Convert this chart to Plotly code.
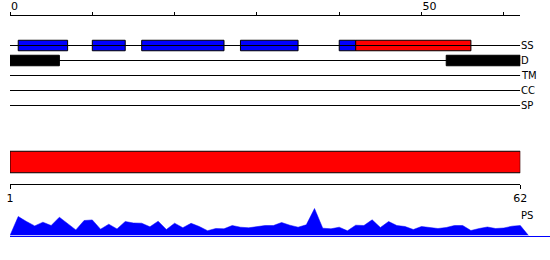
import plotly.graph_objects as go

# ---------------- data ----------------
n_res = 62
rows = ["SS", "D", "TM", "CC", "SP"]
helix_start = [1, 10, 16, 28, 40]
helix_end = [7, 14, 26, 35, 42]
strand_start = [42]
strand_end = [56]
disorder_start = [0, 53]
disorder_end = [6, 62]
region_start = [1]
region_end = [62]
top_tickvals = [0, 10, 20, 30, 40, 50, 60]
top_ticktext = ["0", "", "", "", "", "50", ""]
bottom_tickvals = [1, 62]
bottom_ticktext = ["1", "62"]
ps_residues = list(range(1, 63))
ps_values = [19, 14, 9.6, 13.3, 10, 18.3, 12, 5.6, 15, 15.6,
             6.3, 11.3, 6.6, 14, 12.5, 12.3, 8.7, 14.3, 6, 12.3,
             7.8, 12.2, 9, 4.8, 7, 6.7, 10, 8.3, 7.7, 9,
             10, 10, 13, 10.3, 8.3, 10.7, 27, 7.3, 6.7, 8.3,
             4.7, 10.3, 10, 15.7, 8, 14, 10, 9, 6, 9,
             8, 7, 8, 10, 10, 5, 7, 8.5, 7, 7.5,
             9.3, 10]

# ---------------- layout helpers ----------------
W, H = 550, 260
FONT = "DejaVu Sans"
BLUE = "#0000FF"
RED = "#FF0000"


def py(y):
    return 1 - y / H


x_left = 10.0
x_right = 520.3
scale = (x_right - x_left) / n_res
ps_range_end = (W - x_left) / scale

row_idx = {r: i for i, r in enumerate(rows)}

fig = go.Figure()

# track lines
for r in rows:
    fig.add_trace(go.Scatter(x=[0, n_res], y=[row_idx[r], row_idx[r]], mode="lines",
                             line=dict(color="black", width=1), xaxis="x", yaxis="y",
                             hoverinfo="skip"))

BW = 0.7


def seg_bar(starts, ends, row, color, xa="x", ya="y", width=BW):
    return go.Bar(orientation="h", y=[row] * len(starts),
                  x=[e - s for s, e in zip(starts, ends)], base=starts,
                  width=width, marker=dict(color=color, line=dict(color="black", width=1)),
                  xaxis=xa, yaxis=ya)


fig.add_trace(seg_bar(helix_start, helix_end, row_idx["SS"], BLUE))
fig.add_trace(seg_bar(strand_start, strand_end, row_idx["SS"], RED))
fig.add_trace(seg_bar(disorder_start, disorder_end, row_idx["D"], "black"))
fig.add_trace(seg_bar(region_start, region_end, 0, RED, "x2", "y2", 1.0))

# PS profile
fig.add_trace(go.Scatter(x=[0] + ps_residues + [n_res + 1], y=[0] + ps_values + [0],
                         mode="lines", fill="tozeroy", fillcolor=BLUE,
                         line=dict(color=BLUE, width=0.5), xaxis="x3", yaxis="y3"))

annotations = []
for r in rows:
    annotations.append(dict(x=n_res, y=row_idx[r], xref="x", yref="y", text=r,
                            showarrow=False, xanchor="left", yanchor="middle",
                            font=dict(family=FONT, size=10, color="black"), xshift=-1))
annotations.append(dict(x=n_res, y=20.3, xref="x3", yref="y3", text="PS",
                        showarrow=False, xanchor="left", yanchor="middle",
                        font=dict(family=FONT, size=10, color="black"), xshift=-1))

fig.update_layout(
    template="none",
    width=W, height=H, margin=dict(l=0, r=0, t=0, b=0, autoexpand=False),
    paper_bgcolor="white", plot_bgcolor="white", showlegend=False,
    barmode="overlay", annotations=annotations,
    font=dict(family=FONT, size=11, color="black"),
    xaxis=dict(domain=[x_left / W, x_right / W], range=[0, n_res], anchor="y", side="top",
               showline=True, linecolor="black", linewidth=1, ticks="outside", ticklen=3,
               tickcolor="black", tickvals=top_tickvals, ticktext=top_ticktext,
               ticklabelposition="outside right", tickfont=dict(family=FONT, size=11),
               showgrid=False, zeroline=False, automargin=False),
    yaxis=dict(domain=[py(120.5), py(15.5)], range=[5, -2], visible=False, automargin=False),
    xaxis2=dict(domain=[x_left / W, x_right / W], range=[1, n_res], anchor="y2", side="bottom",
                showline=True, linecolor="black", linewidth=1, ticks="outside", ticklen=4,
                tickcolor="black", tickvals=bottom_tickvals, ticktext=bottom_ticktext,
                tickfont=dict(family=FONT, size=11), showgrid=False, zeroline=False,
                automargin=False),
    yaxis2=dict(domain=[py(183.5), py(140.5)], range=[-1, 1], visible=False, automargin=False),
    xaxis3=dict(domain=[x_left / W, 1], range=[0, ps_range_end], anchor="y3",
                showline=True, linecolor=BLUE, linewidth=1, ticks="", showticklabels=False,
                showgrid=False, zeroline=False, automargin=False),
    yaxis3=dict(domain=[py(235.5), py(205.2)], range=[0, 30.3], visible=False, automargin=False),
)

fig.write_html("out.html")
